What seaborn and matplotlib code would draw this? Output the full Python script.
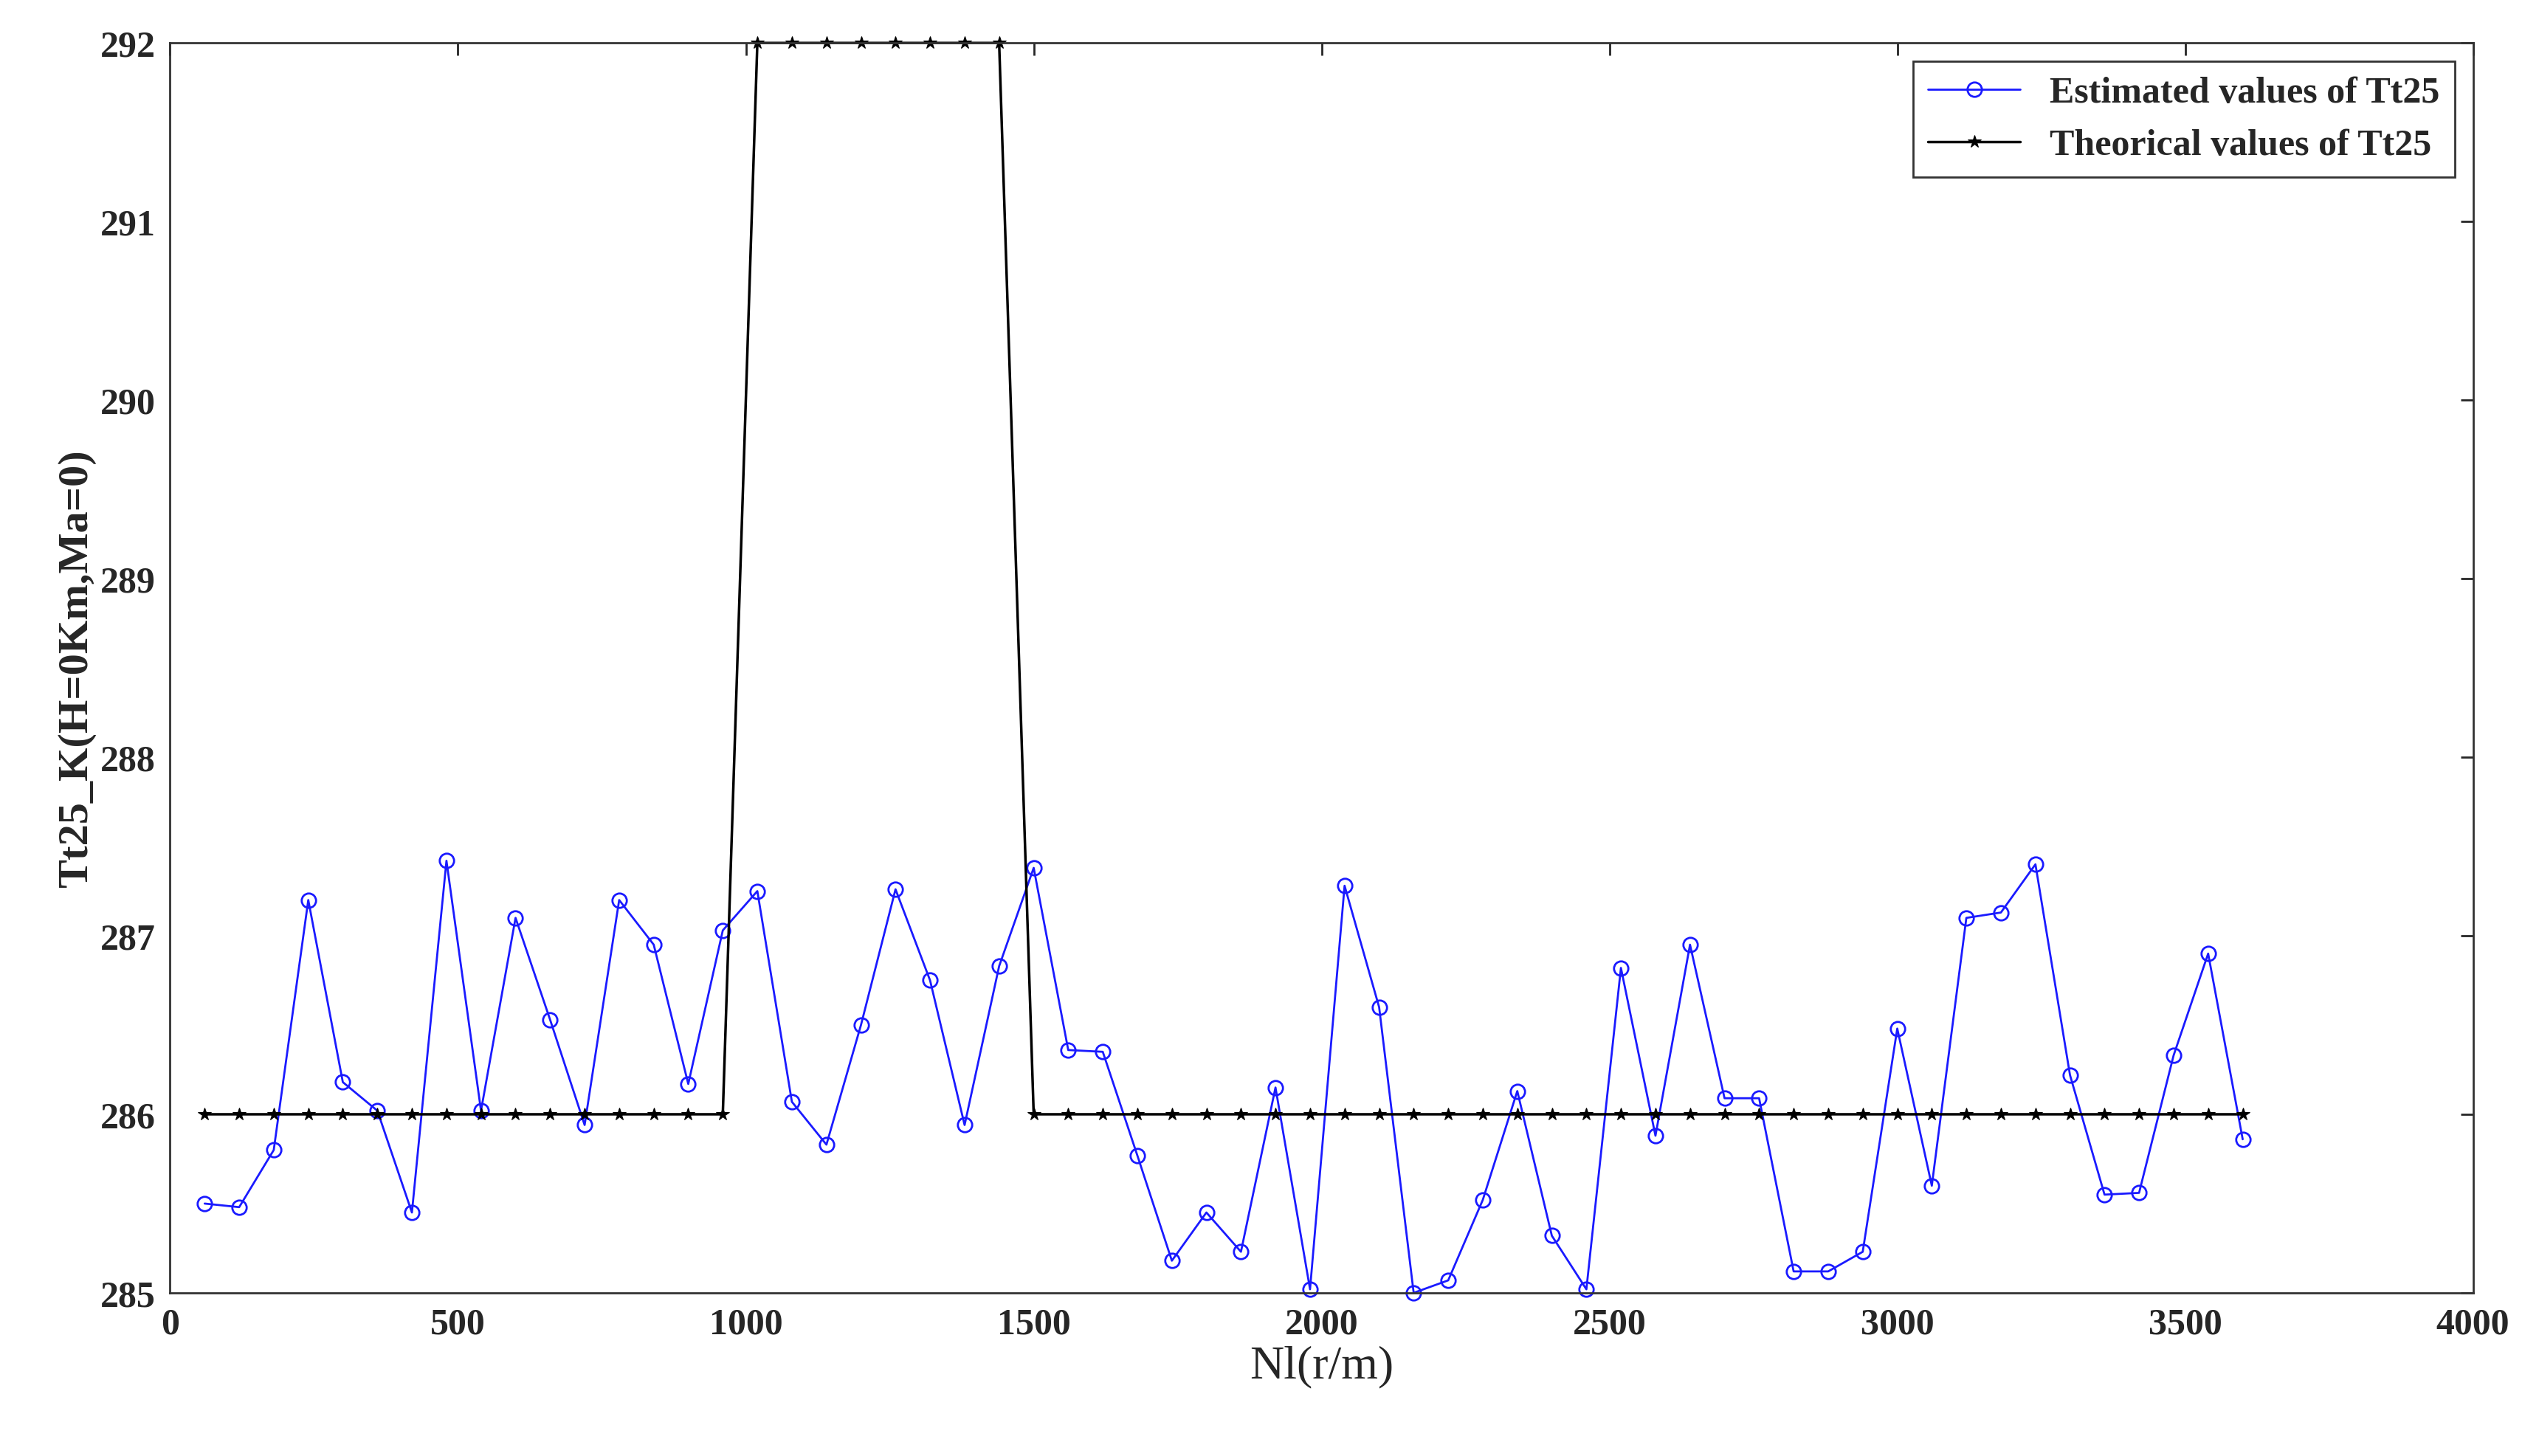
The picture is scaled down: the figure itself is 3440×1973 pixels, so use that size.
import numpy as np
import pandas as pd
import matplotlib
matplotlib.use("Agg")
import matplotlib.pyplot as plt
import seaborn as sns

sns.set_style("white")
plt.rcParams['font.family'] = ['Liberation Serif', 'DejaVu Serif']

speed = list(range(60, 3601, 60))
estimated = [285.5, 285.48, 285.8, 287.2, 286.18, 286.02, 285.45, 287.42, 286.02, 287.1,
             286.53, 285.94, 287.2, 286.95, 286.17, 287.03, 287.25, 286.07, 285.83, 286.5,
             287.26, 286.75, 285.94, 286.83, 287.38, 286.36, 286.35, 285.77, 285.18, 285.45,
             285.23, 286.15, 285.02, 287.28, 286.6, 285.0, 285.07, 285.52, 286.13, 285.32,
             285.02, 286.82, 285.88, 286.95, 286.09, 286.09, 285.12, 285.12, 285.23, 286.48,
             285.6, 287.1, 287.13, 287.4, 286.22, 285.55, 285.56, 286.33, 286.9, 285.86]
theoretical = [286] * 16 + [292] * 8 + [286] * 36

df = pd.DataFrame({"speed": speed, "est": estimated, "theo": theoretical})

fig = plt.figure(figsize=(34.4, 19.74), dpi=100)
ax = fig.add_axes([0.067, 0.112, 0.907, 0.858])

sns.lineplot(data=df, x="speed", y="est", ax=ax, color="#1a1aff", lw=2,
             marker="o", markersize=14, markerfacecolor="none", markeredgecolor="#1a1aff",
             markeredgewidth=2, label="Estimated values of Tt25", clip_on=False)
sns.lineplot(data=df, x="speed", y="theo", ax=ax, color="black", lw=2.5,
             marker="*", markersize=13, markeredgecolor="black",
             label="Theorical values of Tt25", clip_on=False)

ax.set_xlim(0, 4000)
ax.set_ylim(285, 292)
ax.set_xticks(range(0, 4001, 500))
ax.set_yticks(range(285, 293))
for lab in ax.get_xticklabels() + ax.get_yticklabels():
    lab.set_fontsize(36)
    lab.set_fontweight("bold")
ax.tick_params(direction="in", length=12, width=2, top=True, right=True, pad=14)
for s in ax.spines.values():
    s.set_linewidth(2)
    s.set_color("#333333")
ax.set_xlabel("Nl(r/m)", fontsize=46)
ax.set_ylabel("Tt25_K(H=0Km,Ma=0)", fontsize=42, fontweight="bold")

leg = ax.legend(loc="upper right", prop={"weight": "bold", "size": 36},
                frameon=True, fancybox=False, edgecolor="black", handlelength=2.5)
leg.get_frame().set_linewidth(2)

fig.savefig("out.png", dpi=100)
